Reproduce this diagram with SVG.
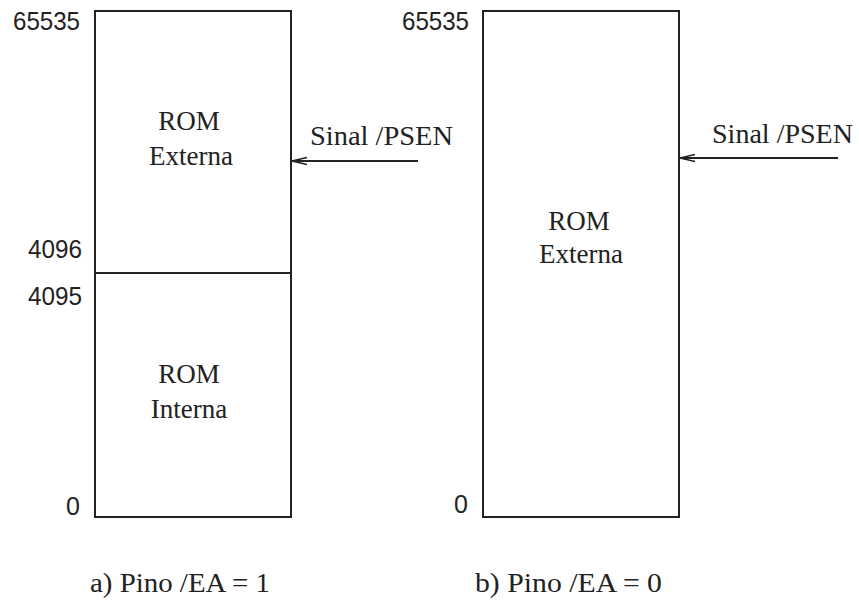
<svg xmlns="http://www.w3.org/2000/svg" width="859" height="600" viewBox="0 0 859 600">
<defs>
<style>
.box{fill:#fff;stroke:#222;stroke-width:2}
.ln{stroke:#222;stroke-width:2;fill:none}
.num{font-family:"Liberation Sans",Arial,sans-serif;font-size:25px;fill:#222}
.lbl{font-family:"Liberation Serif",serif;font-size:27px;fill:#222}
</style>
<marker id="ah" markerWidth="18" markerHeight="10" refX="16" refY="5" orient="auto" markerUnits="userSpaceOnUse">
<path d="M1,1.5 L16,5 L1,8.5" fill="none" stroke="#222" stroke-width="1.3"/>
</marker>
</defs>
<rect width="859" height="600" fill="#fff"/>
<g id="mem-a">
<rect class="box" x="95" y="11" width="196" height="506"/>
<line class="ln" x1="95" y1="273" x2="291" y2="273"/>
<text class="num" x="80" y="30" text-anchor="end" textLength="67" lengthAdjust="spacingAndGlyphs">65535</text>
<text class="num" x="82" y="258" text-anchor="end" textLength="54" lengthAdjust="spacingAndGlyphs">4096</text>
<text class="num" x="82" y="305" text-anchor="end" textLength="54" lengthAdjust="spacingAndGlyphs">4095</text>
<text class="num" x="80" y="515" text-anchor="end">0</text>
</g>
<g id="rom-ext-a">
<text class="lbl" x="189" y="130" text-anchor="middle">ROM</text>
<text class="lbl" x="191" y="165" text-anchor="middle">Externa</text>
</g>
<g id="rom-int-a">
<text class="lbl" x="189" y="383" text-anchor="middle">ROM</text>
<text class="lbl" x="189" y="418" text-anchor="middle">Interna</text>
</g>
<g id="psen-a">
<text class="lbl" x="310" y="145" textLength="143" lengthAdjust="spacingAndGlyphs">Sinal /PSEN</text>
</g>
<g id="mem-b">
<rect class="box" x="483" y="11" width="196" height="506"/>
<text class="num" x="469" y="30" text-anchor="end" textLength="67" lengthAdjust="spacingAndGlyphs">65535</text>
<text class="num" x="468" y="513" text-anchor="end">0</text>
</g>
<g id="rom-ext-b">
<text class="lbl" x="579" y="230" text-anchor="middle">ROM</text>
<text class="lbl" x="581" y="263" text-anchor="middle">Externa</text>
</g>
<g id="psen-b">
<text class="lbl" x="712" y="143" textLength="141" lengthAdjust="spacingAndGlyphs">Sinal /PSEN</text>
</g>
<g id="captions">
<text class="lbl" x="90" y="592" textLength="180" lengthAdjust="spacingAndGlyphs">a) Pino /EA = 1</text>
<text class="lbl" x="475" y="592" textLength="187" lengthAdjust="spacingAndGlyphs">b) Pino /EA = 0</text>
</g>
<g id="connectors">
<line class="ln" x1="418" y1="161" x2="292" y2="161" marker-end="url(#ah)"/>
<line class="ln" x1="838" y1="158" x2="680" y2="158" marker-end="url(#ah)"/>
</g>
</svg>
